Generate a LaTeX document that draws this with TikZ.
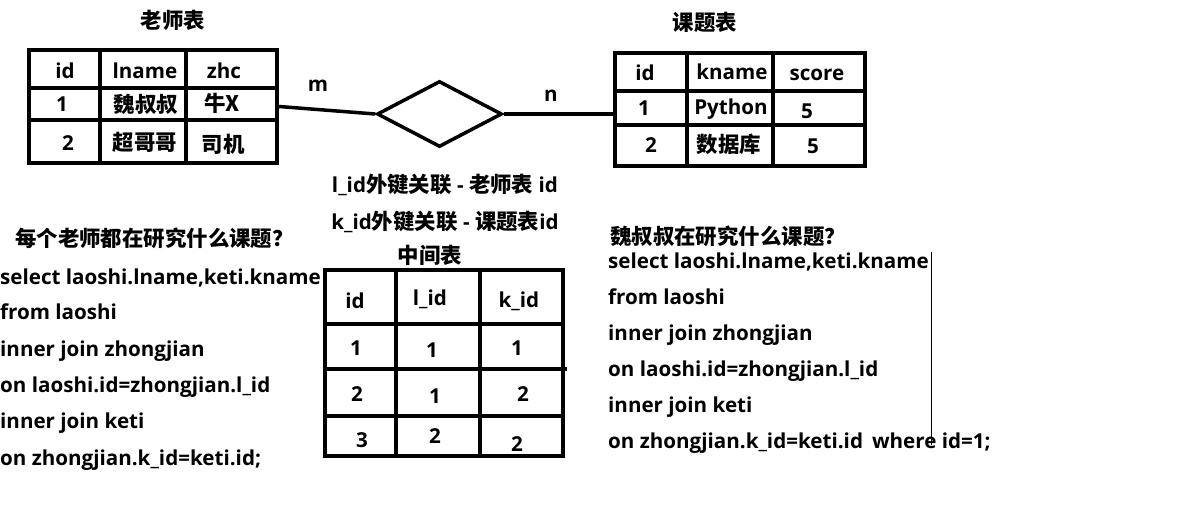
\documentclass[tikz,border=0pt]{standalone}
\usepackage{fontspec}
\setmainfont{Open Sans}
\newfontfamily\cjk{Noto Sans CJK SC}[Scale=1.04]
\usetikzlibrary{shapes.geometric}
\tikzset{
  tblbox/.style={draw=black, line width=4pt, inner sep=0pt},
  tblline/.style={line width=3.4pt, draw=black, line cap=butt},
  cell/.style={font=\bfseries\fontsize{20.6}{20.6}\selectfont, inner sep=0pt, text height=15pt, text depth=4pt},
  tbltitle/.style={font=\bfseries\fontsize{20.6}{20.6}\selectfont, inner sep=0pt},
  sqlline/.style={anchor=west, font=\bfseries\fontsize{20.6}{20.6}\selectfont, inner sep=0pt, text height=15pt, text depth=4pt},
  link/.style={line width=3.5pt, draw=black},
  relbox/.style={diamond, draw=black, line width=3.5pt, inner sep=0pt, minimum width=125pt, minimum height=66pt},
}

\begin{document}
\begin{tikzpicture}[x=1pt, y=-1pt]
\useasboundingbox (0,0) rectangle (1200,514);
% teacher table
\node[tbltitle] (lstitle) at (173,20) {\cjk 老师表};
\node[tblbox, minimum width=248pt, minimum height=113pt] (laoshi) at (153,106.5) {};
\draw[tblline] (100,50) -- (100,163);
\draw[tblline] (186,50) -- (186,163);
\draw[tblline] (29,88) -- (277,88);
\draw[tblline] (29,120) -- (277,120);
\node[cell] (lsid) at (65,73) {id};
\node[cell] (lsname) at (145,73) {lname};
\node[cell] (lszhc) at (224,73) {zhc};
\node[cell] (lsa1) at (62,106) {1};
\node[cell] (lsa2) at (146,107) {\cjk 魏叔叔};
\node[cell] (lsa3) at (222,106) {\cjk 牛X};
\node[cell] (lsb1) at (68,145) {2};
\node[cell] (lsb2) at (145,145) {\cjk 超哥哥};
\node[cell] (lsb3) at (223,147) {\cjk 司机};
% course table
\node[tbltitle] (kttitle) at (705,22) {\cjk 课题表};
\node[tblbox, minimum width=250pt, minimum height=113pt] (keti) at (740,109.5) {};
\draw[tblline] (687,53) -- (687,166);
\draw[tblline] (773,53) -- (773,166);
\draw[tblline] (615,91) -- (865,91);
\draw[tblline] (615,125) -- (865,125);
\node[cell] (ktid) at (645,75) {id};
\node[cell] (ktname) at (732,74) {kname};
\node[cell] (ktscore) at (817,75) {score};
\node[cell] (kta1) at (644,110) {1};
\node[cell] (kta2) at (731,109) {Python};
\node[cell] (kta3) at (807,113) {5};
\node[cell] (ktb1) at (651,147) {2};
\node[cell] (ktb2) at (729,147) {\cjk 数据库};
\node[cell] (ktb3) at (813,148) {5};
% relation
\node[relbox] (rel) at (439.5,114) {};
\draw[link] (laoshi.east) -- (rel.west);
\draw[link] (rel.east) -- (rel.east -| keti.west);
\node[cell] (mlabel) at (318,86) {m};
\node[cell] (nlabel) at (551,96) {n};
% middle table
\node[cell] (fk1) at (445,187) {l\_id{\cjk 外键关联} - {\cjk 老师表} id};
\node[cell] (fk2) at (445,224) {k\_id{\cjk 外键关联} - {\cjk 课题表}id};
\node[tbltitle] (zjtitle) at (430,255) {\cjk 中间表};
\node[tblbox, minimum width=238pt, minimum height=186pt] (zhongjian) at (444,363) {};
\draw[tblline] (396,270) -- (396,456);
\draw[tblline] (480,270) -- (480,456);
\draw[tblline] (325,324) -- (563,324);
\draw[tblline] (325,369) -- (567,369);
\draw[tblline] (325,416) -- (563,416);
\node[cell] (zjid) at (355,303) {id};
\node[cell] (zjlid) at (430,300) {l\_id};
\node[cell] (zjkid) at (519,302) {k\_id};
\node[cell] (zja1) at (356,350) {1};
\node[cell] (zja2) at (432,352) {1};
\node[cell] (zja3) at (517,350) {1};
\node[cell] (zjb1) at (357,396) {2};
\node[cell] (zjb2) at (435,398) {1};
\node[cell] (zjb3) at (523,396) {2};
\node[cell] (zjc1) at (362,442) {3};
\node[cell] (zjc2) at (435,438) {2};
\node[cell] (zjc3) at (517,446) {2};
% left query
\node[sqlline] (qleft) at (15,241) {\cjk 每个老师都在研究什么课题？};
\node[sqlline] (la) at (0,279) {select laoshi.lname,keti.kname};
\node[sqlline] (lb) at (0,314) {from laoshi};
\node[sqlline] (lc) at (0,351) {inner join zhongjian};
\node[sqlline] (ld) at (0,387) {on laoshi.id=zhongjian.l\_id};
\node[sqlline] (le) at (0,423) {inner join keti};
\node[sqlline] (lf) at (0,460) {on zhongjian.k\_id=keti.id;};
% right query
\node[sqlline] (qright) at (610,239) {\cjk 魏叔叔在研究什么课题？};
\node[sqlline] (ra) at (608,263) {select laoshi.lname,keti.kname};
\node[sqlline] (rb) at (608,299) {from laoshi};
\node[sqlline] (rc) at (608,335) {inner join zhongjian};
\node[sqlline] (rd) at (608,371) {on laoshi.id=zhongjian.l\_id};
\node[sqlline] (re) at (608,407) {inner join keti};
\node[sqlline] (rf) at (608,443) {on zhongjian.k\_id=keti.id\hspace{9pt}where id=1;};
\draw[line width=1pt] (931,252) -- (931,445);
\end{tikzpicture}
\end{document}
